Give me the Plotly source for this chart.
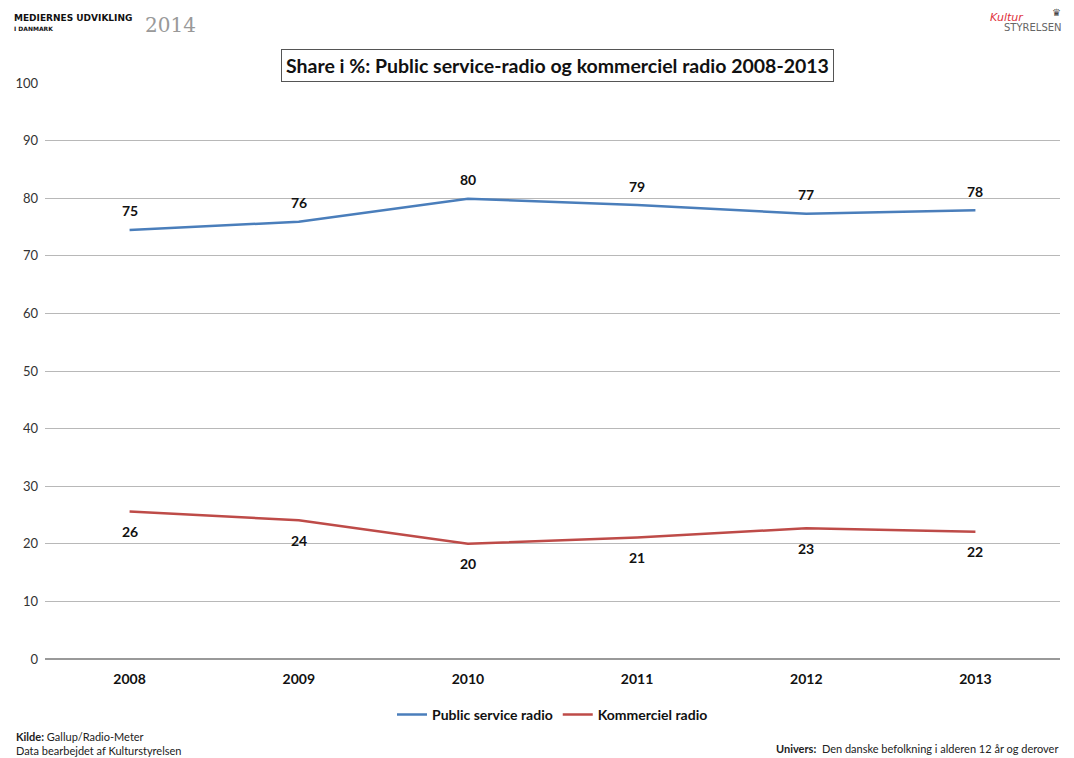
import plotly.graph_objects as go

years = ["2008", "2009", "2010", "2011", "2012", "2013"]
public_service = [74.5, 75.9, 79.9, 78.8, 77.3, 77.9]
kommerciel = [25.6, 24.1, 20.0, 21.1, 22.7, 22.1]
public_labels = ["75", "76", "80", "79", "77", "78"]
kommerciel_labels = ["26", "24", "20", "21", "23", "22"]
y_ticks = [0, 10, 20, 30, 40, 50, 60, 70, 80, 90, 100]

FONT = "Lato, 'Open Sans', sans-serif"
LABEL_FONT = dict(family=FONT, size=14, color="#111111", weight="bold")

fig = go.Figure()
fig.add_trace(go.Scatter(
    x=years, y=public_service, mode="lines", name="Public service radio",
    line=dict(color="#4a7ebb", width=2.5),
))
fig.add_trace(go.Scatter(
    x=years, y=kommerciel, mode="lines", name="Kommerciel radio",
    line=dict(color="#be4b48", width=2.5),
))

annotations = []
for i, (y, t) in enumerate(zip(public_service, public_labels)):
    annotations.append(dict(x=i, y=y, xref="x", yref="y", text=t, showarrow=False, yshift=19,
                            font=LABEL_FONT, xanchor="center", yanchor="middle"))
for i, (y, t) in enumerate(zip(kommerciel, kommerciel_labels)):
    annotations.append(dict(x=i, y=y, xref="x", yref="y", text=t, showarrow=False, yshift=-20,
                            font=LABEL_FONT, xanchor="center", yanchor="middle"))

annotations += [
    dict(text="Share i %: Public service-radio og kommerciel radio 2008-2013",
         xref="paper", yref="paper", x=0.5045, y=1.0, yanchor="bottom", xanchor="center",
         yshift=1, showarrow=False, bordercolor="#555555", borderwidth=1, borderpad=4,
         bgcolor="white",
         font=dict(family=FONT, size=19.5, color="#111111", weight="bold")),
    dict(text="<b>MEDIERNES UDVIKLING</b>", xref="paper", yref="paper",
         x=-0.033, y=1.113, xanchor="left", yanchor="middle", showarrow=False,
         font=dict(family="'DejaVu Sans', sans-serif", size=9, color="#111111")),
    dict(text="<b>I DANMARK</b>", xref="paper", yref="paper",
         x=-0.033, y=1.095, xanchor="left", yanchor="middle", showarrow=False,
         font=dict(family="'DejaVu Sans', sans-serif", size=6, color="#111111")),
    dict(text="2014", xref="paper", yref="paper",
         x=0.097, y=1.1, xanchor="left", yanchor="middle", showarrow=False,
         font=dict(family="'DejaVu Serif', serif", size=20, color="#999999")),
    dict(text="<i>Kultur</i>", xref="paper", yref="paper",
         x=0.929, y=1.113, xanchor="left", yanchor="middle", showarrow=False,
         font=dict(family="'DejaVu Sans', sans-serif", size=11, color="#e0303a")),
    dict(text="♛", xref="paper", yref="paper",
         x=0.997, y=1.122, xanchor="center", yanchor="middle", showarrow=False,
         font=dict(family="'DejaVu Sans', sans-serif", size=10, color="#444444")),
    dict(text="STYRELSEN", xref="paper", yref="paper",
         x=1.004, y=1.097, xanchor="right", yanchor="middle", showarrow=False,
         font=dict(family="'DejaVu Sans', sans-serif", size=10, color="#666666")),
    dict(text="<b>Kilde:</b> Gallup/Radio-Meter<br>Data bearbejdet af Kulturstyrelsen",
         xref="paper", yref="paper", x=-0.031, y=-0.12, xanchor="left", yanchor="top",
         align="left", showarrow=False,
         font=dict(family=FONT, size=11, color="#222222")),
    dict(text="<b>Univers:</b>  Den danske befolkning i alderen 12 år og derover",
         xref="paper", yref="paper", x=1.0, y=-0.156, xanchor="right", yanchor="middle",
         align="right", showarrow=False,
         font=dict(family=FONT, size=11, color="#222222")),
]

fig.update_layout(
    width=1074, height=758,
    paper_bgcolor="white", plot_bgcolor="white",
    margin=dict(l=45, r=14, t=83, b=99),
    font=dict(family=FONT, color="#111111"),
    showlegend=True,
    legend=dict(orientation="h", x=0.5, xanchor="center", y=-0.097, yanchor="middle",
                font=dict(family=FONT, size=14, color="#111111", weight="bold"),
                itemwidth=30),
    xaxis=dict(type="category", range=[-0.5, 5.5], showgrid=False, zeroline=False,
               showline=False, ticks="",
               tickfont=dict(family=FONT, size=14, color="#111111", weight="bold"),
               ticklabelstandoff=10),
    yaxis=dict(range=[0, 100], tickvals=y_ticks, showgrid=True, gridcolor="#b8b8b8",
               gridwidth=1, zeroline=True, zerolinecolor="#999999", showline=False,
               tickfont=dict(family=FONT, size=13, color="#333333"), ticks="",
               ticklabelstandoff=6),
    annotations=annotations,
)

fig.write_html("out.html")
